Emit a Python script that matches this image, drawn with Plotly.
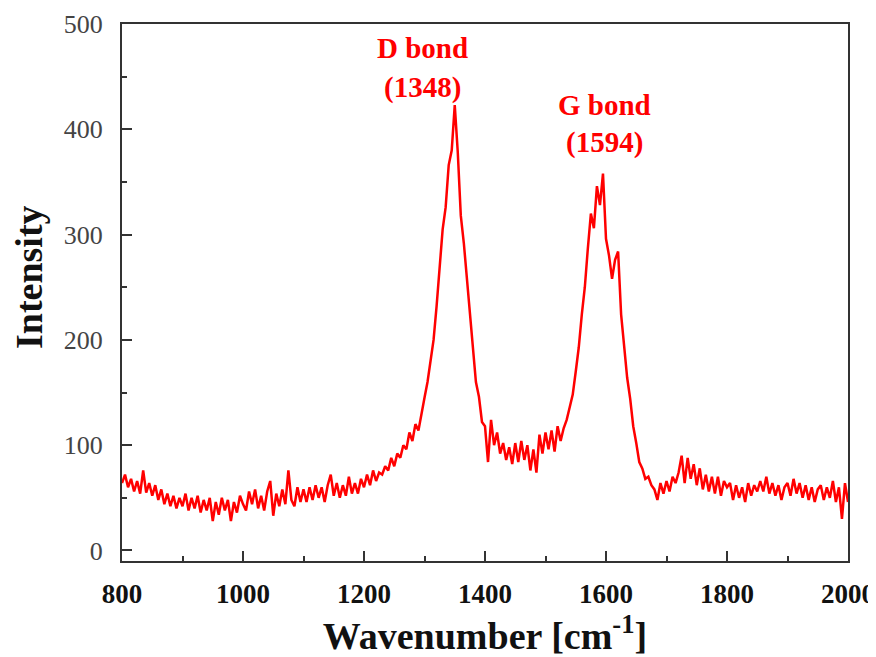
import plotly.graph_objects as go

# Raman spectrum: wavenumber grid (cm^-1) and intensity
wavenumber = list(range(800, 2001, 5))
intensity = [
    # 800-895
    64, 72, 60, 68, 56, 66, 54, 76, 55, 64, 52, 62, 48, 58, 44, 54, 42, 52, 40, 50,
    # 900-995
    42, 54, 38, 50, 40, 52, 36, 48, 38, 50, 28, 46, 34, 50, 38, 48, 28, 46, 36, 52,
    # 1000-1095
    44, 38, 56, 44, 58, 40, 52, 38, 56, 66, 33, 54, 42, 58, 44, 76, 48, 42, 60, 46,
    # 1100-1195
    58, 46, 60, 48, 62, 50, 60, 46, 62, 72, 52, 64, 50, 62, 52, 70, 54, 64, 54, 68,
    # 1200-1295
    60, 72, 62, 76, 66, 74, 72, 80, 76, 88, 80, 92, 88, 100, 96, 112, 104, 120, 114, 128,
    # 1300-1395
    145, 160, 178, 200, 232, 270, 305, 326, 366, 380, 423, 378, 318, 292, 258, 225, 186, 160, 146, 122,
    # 1400-1495
    118, 84, 124, 100, 112, 92, 102, 86, 98, 82, 102, 84, 104, 86, 100, 76, 96, 74, 110, 92,
    # 1500-1595
    112, 96, 114, 94, 118, 104, 116, 124, 136, 148, 170, 193, 224, 250, 287, 320, 306, 346, 328, 358,
    # 1600-1695
    296, 280, 258, 276, 284, 224, 194, 164, 144, 118, 102, 84, 78, 68, 70, 62, 58, 48, 64, 54,
    # 1700-1795
    66, 56, 70, 64, 74, 90, 64, 88, 68, 82, 62, 78, 58, 72, 56, 70, 54, 70, 52, 66,
    # 1800-1895
    60, 64, 48, 62, 50, 60, 46, 64, 52, 62, 56, 66, 56, 70, 54, 64, 52, 62, 48, 60,
    # 1900-2000
    64, 52, 68, 54, 64, 50, 62, 48, 60, 46, 58, 62, 48, 60, 50, 66, 46, 60, 30, 64, 46,
]

x_ticks = [800, 1000, 1200, 1400, 1600, 1800, 2000]
y_ticks = [0, 100, 200, 300, 400, 500]

peak_labels = ["D bond", "(1348)", "G bond", "(1594)"]
peak_label_x = [1296, 1296, 1598, 1598]
peak_label_y = [477, 440, 423, 387]

FONT = "Liberation Serif, Times New Roman, serif"

fig = go.Figure()
fig.add_trace(go.Scatter(
    x=wavenumber, y=intensity, mode="lines",
    line=dict(color="#ff0000", width=2.5),
    showlegend=False,
))

for t, xx, yy in zip(peak_labels, peak_label_x, peak_label_y):
    fig.add_annotation(
        x=xx, y=yy, xref="x", yref="y", text=f"<b>{t}</b>", showarrow=False,
        font=dict(family=FONT, size=29, color="#ff0000"),
    )

# y-axis title placed as rotated text (sits a little above the axis centre)
fig.add_annotation(
    x=-0.128, y=0.529, xref="paper", yref="paper", text="<b>Intensity</b>",
    textangle=-90, showarrow=False, xanchor="center", yanchor="middle",
    font=dict(family=FONT, size=38, color="#111"),
)

# page body adds an 8px offset, so the figure is slightly smaller and shifted
fig.update_layout(
    width=868, height=649,
    margin=dict(l=114, r=28, t=16, b=96, autoexpand=False),
    paper_bgcolor="white", plot_bgcolor="white",
    font=dict(family=FONT),
)

fig.update_xaxes(
    automargin=False,
    range=[800, 2000], tickvals=x_ticks,
    ticktext=[f"<b>{v}</b>" for v in x_ticks],
    ticks="inside", ticklen=10, tickwidth=1.5, tickcolor="#333",
    minor=dict(ticks="inside", ticklen=5, dtick=100, tick0=800, tickcolor="#333", tickwidth=1.5),
    showline=True, linecolor="#333", linewidth=2, mirror=True,
    showgrid=False, zeroline=False,
    tickfont=dict(family=FONT, size=27, color="#111"),
    ticklabelstandoff=8,
    title=dict(text="<b>Wavenumber [cm<sup>-1</sup>]</b>",
               font=dict(family=FONT, size=38, color="#111"), standoff=10),
)
fig.update_yaxes(
    automargin=False,
    range=[-10, 500], tickvals=y_ticks,
    ticks="inside", ticklen=10, tickwidth=1.5, tickcolor="#333",
    minor=dict(ticks="inside", ticklen=5, dtick=50, tick0=0, tickcolor="#333", tickwidth=1.5),
    showline=True, linecolor="#333", linewidth=2, mirror=True,
    showgrid=False, zeroline=False,
    tickfont=dict(family=FONT, size=26, color="#444"),
    ticklabelstandoff=12,
)

fig.write_html("out.html")
